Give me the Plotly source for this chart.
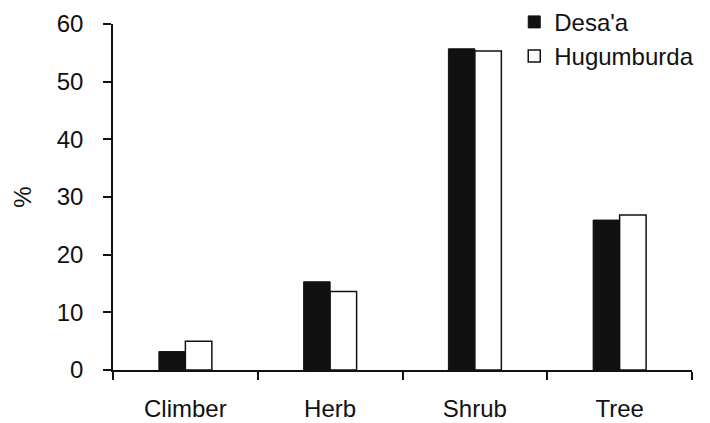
import plotly.graph_objects as go

categories = ["Climber", "Herb", "Shrub", "Tree"]
desaa = [3.2, 15.3, 55.7, 26.0]
hugumburda = [5.0, 13.6, 55.3, 26.9]

fig = go.Figure()
fig.add_trace(go.Bar(x=categories, y=desaa, name="Desa'a",
                     marker=dict(color="#111111", line=dict(color="#111111", width=1))))
fig.add_trace(go.Bar(x=categories, y=hugumburda, name="Hugumburda",
                     marker=dict(color="white", line=dict(color="#111111", width=1.5))))

fig.update_layout(
    width=710, height=423,
    margin=dict(l=105, r=26, t=16, b=61, autoexpand=False),
    plot_bgcolor="white", paper_bgcolor="white",
    font=dict(family="Liberation Sans, Arial", size=24, color="#111111"),
    barmode="group", bargap=0.634, bargroupgap=0,
    showlegend=True,
    legend=dict(x=0.693, y=1.07, xanchor="left", yanchor="top",
                bgcolor="rgba(0,0,0,0)", itemwidth=30, tracegroupgap=0,
                font=dict(size=24)),
)
fig.update_xaxes(showline=True, linecolor="#111111", linewidth=1.5,
                 ticks="outside", tickson="boundaries", ticklen=8, tickcolor="#111111",
                 tickwidth=1.5, showgrid=False, automargin=False, ticklabelstandoff=16,
                 tickfont=dict(size=24))
fig.update_yaxes(range=[0, 60], dtick=10, showline=True, linecolor="#111111", linewidth=1.5,
                 ticks="outside", ticklen=8, tickcolor="#111111", tickwidth=1.5,
                 showgrid=False, zeroline=False, automargin=False, ticklabelstandoff=15,
                 tickfont=dict(size=24),
                 title=dict(text="%", standoff=18, font=dict(size=24)))

fig.write_html("out.html")
